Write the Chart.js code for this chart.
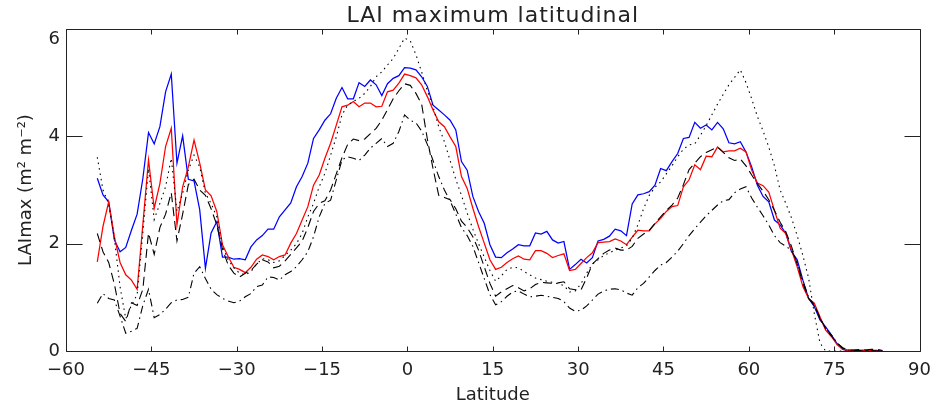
<!DOCTYPE html>
<html>
<head>
<meta charset="utf-8">
<title>LAI maximum latitudinal</title>
<script src="https://cdn.jsdelivr.net/npm/chart.js@4.4.1/dist/chart.umd.min.js"></script>
<style>
  html, body { margin: 0; padding: 0; background: #fff; }
</style>
</head>
<body>
<canvas id="laiPlot" width="940" height="408"></canvas>
<script>
"use strict";

// 1-degree latitude bands (band centres)
const lats = [
    -54.5, -53.5, -52.5, -51.5, -50.5, -49.5, -48.5, -47.5, -46.5, -45.5,
    -44.5, -43.5, -42.5, -41.5, -40.5, -39.5, -38.5, -37.5, -36.5, -35.5,
    -34.5, -33.5, -32.5, -31.5, -30.5, -29.5, -28.5, -27.5, -26.5, -25.5,
    -24.5, -23.5, -22.5, -21.5, -20.5, -19.5, -18.5, -17.5, -16.5, -15.5,
    -14.5, -13.5, -12.5, -11.5, -10.5, -9.5, -8.5, -7.5, -6.5, -5.5,
    -4.5, -3.5, -2.5, -1.5, -0.5, 0.5, 1.5, 2.5, 3.5, 4.5,
    5.5, 6.5, 7.5, 8.5, 9.5, 10.5, 11.5, 12.5, 13.5, 14.5,
    15.5, 16.5, 17.5, 18.5, 19.5, 20.5, 21.5, 22.5, 23.5, 24.5,
    25.5, 26.5, 27.5, 28.5, 29.5, 30.5, 31.5, 32.5, 33.5, 34.5,
    35.5, 36.5, 37.5, 38.5, 39.5, 40.5, 41.5, 42.5, 43.5, 44.5,
    45.5, 46.5, 47.5, 48.5, 49.5, 50.5, 51.5, 52.5, 53.5, 54.5,
    55.5, 56.5, 57.5, 58.5, 59.5, 60.5, 61.5, 62.5, 63.5, 64.5,
    65.5, 66.5, 67.5, 68.5, 69.5, 70.5, 71.5, 72.5, 73.5, 74.5,
    75.5, 76.5, 77.5, 78.5, 79.5, 80.5, 81.5, 82.5, 83.5
];

const laiBlue = [
    3.22, 2.91, 2.78, 2.07, 1.85, 1.93, 2.25, 2.55, 3.21, 4.07,
    3.86, 4.18, 4.83, 5.16, 3.50, 4.01, 3.20, 3.17, 2.63, 1.54,
    2.20, 2.41, 1.75, 1.75, 1.71, 1.72, 1.70, 1.94, 2.07, 2.15,
    2.27, 2.27, 2.50, 2.63, 2.76, 3.06, 3.25, 3.50, 3.96, 4.12,
    4.30, 4.42, 4.71, 4.91, 4.70, 4.70, 5.00, 4.93, 5.05, 4.96,
    4.76, 4.98, 5.08, 5.13, 5.28, 5.27, 5.24, 5.11, 4.93, 4.58,
    4.49, 4.40, 4.30, 4.12, 3.53, 3.37, 2.88, 2.60, 2.38, 1.98,
    1.75, 1.74, 1.83, 1.90, 1.98, 1.96, 1.96, 2.20, 2.18, 2.23,
    2.07, 2.01, 2.04, 1.52, 1.61, 1.71, 1.64, 1.74, 2.05, 2.08,
    2.14, 2.27, 2.24, 2.15, 2.74, 2.91, 2.93, 2.97, 3.09, 3.40,
    3.36, 3.53, 3.68, 3.96, 3.98, 4.26, 4.15, 4.21, 4.12, 4.26,
    4.14, 3.88, 3.86, 3.90, 3.71, 3.43, 3.09, 2.88, 2.78, 2.44,
    2.35, 2.19, 1.85, 1.70, 1.32, 0.98, 0.83, 0.58, 0.45, 0.30,
    0.14, 0.03, 0.01, 0.01, 0.01, 0.01, 0.01, 0.01, 0.00
];

const laiRed = [
    1.66, 2.32, 2.78, 2.13, 1.65, 1.42, 1.32, 1.15, 2.35, 3.56,
    2.66, 3.12, 3.81, 4.15, 2.35, 3.06, 3.43, 3.93, 3.50, 3.00,
    2.89, 2.60, 1.98, 1.76, 1.56, 1.52, 1.46, 1.56, 1.71, 1.79,
    1.76, 1.70, 1.76, 1.79, 2.01, 2.19, 2.44, 2.69, 3.09, 3.28,
    3.59, 3.87, 4.21, 4.55, 4.58, 4.65, 4.55, 4.62, 4.62, 4.55,
    4.56, 4.83, 4.86, 4.99, 5.16, 5.13, 5.09, 4.96, 4.74, 4.49,
    4.27, 4.18, 3.99, 3.81, 3.25, 3.03, 2.66, 2.32, 2.01, 1.70,
    1.52, 1.56, 1.65, 1.72, 1.77, 1.71, 1.70, 1.87, 1.87, 1.82,
    1.74, 1.78, 1.81, 1.50, 1.52, 1.63, 1.74, 1.83, 2.02, 2.03,
    2.04, 2.09, 2.05, 1.98, 2.12, 2.25, 2.24, 2.24, 2.37, 2.47,
    2.60, 2.69, 2.71, 3.06, 3.19, 3.47, 3.38, 3.63, 3.62, 3.80,
    3.71, 3.73, 3.73, 3.78, 3.71, 3.37, 3.13, 3.08, 2.96, 2.62,
    2.29, 2.19, 1.88, 1.57, 1.20, 0.98, 0.89, 0.64, 0.39, 0.27,
    0.12, 0.03, 0.01, 0.01, 0.01, 0.01, 0.01, 0.00, 0.00
];

const laiDotted = [
    3.61, 3.00, 2.75, 2.10, 1.20, 0.60, 0.85, 1.05, 2.20, 3.40,
    2.45, 2.75, 3.06, 3.59, 2.60, 2.94, 3.37, 3.65, 3.43, 2.94,
    2.75, 2.50, 1.94, 1.70, 1.55, 1.45, 1.42, 1.48, 1.62, 1.72,
    1.70, 1.65, 1.68, 1.78, 1.88, 2.00, 2.19, 2.50, 2.75, 3.06,
    3.31, 3.65, 3.99, 4.40, 4.58, 4.65, 4.71, 4.80, 4.93, 5.11,
    5.20, 5.33, 5.45, 5.64, 5.83, 5.78, 5.52, 5.20, 4.85, 4.55,
    4.18, 3.90, 3.55, 3.20, 2.90, 2.57, 2.27, 2.00, 1.75, 1.50,
    1.30, 1.40, 1.52, 1.56, 1.55, 1.48, 1.42, 1.36, 1.33, 1.30,
    1.28, 1.25, 1.22, 1.10, 1.12, 1.25, 1.45, 1.62, 1.70, 1.78,
    1.83, 1.88, 1.92, 1.96, 2.10, 2.35, 2.65, 2.90, 3.05, 3.15,
    3.30, 3.45, 3.62, 3.76, 3.84, 3.86, 4.02, 4.20, 4.40, 4.60,
    4.78, 4.96, 5.10, 5.24, 5.00, 4.70, 4.37, 4.10, 3.80, 3.45,
    3.00, 2.75, 2.48, 2.15, 1.78, 1.36, 0.70, 0.15, 0.00, 0.00,
    0.00, 0.00, 0.00, 0.00, 0.00, 0.00, 0.00, 0.00, 0.00
];

const laiDashed = [
    2.19, 1.85, 1.65, 1.25, 0.70, 0.55, 0.90, 0.85, 1.15, 2.20,
    1.80, 2.30, 2.55, 2.95, 2.05, 2.55, 3.10, 3.20, 3.00, 2.90,
    2.65, 2.35, 1.90, 1.60, 1.45, 1.38, 1.45, 1.50, 1.62, 1.70,
    1.66, 1.55, 1.58, 1.68, 1.80, 1.92, 2.05, 2.30, 2.60, 2.75,
    2.80, 3.00, 3.30, 3.60, 3.85, 3.95, 3.92, 3.95, 4.05, 4.15,
    4.30, 4.50, 4.70, 4.85, 4.98, 4.95, 4.80, 4.60, 3.95, 3.40,
    2.90, 2.86, 2.82, 2.65, 2.42, 2.30, 2.13, 1.88, 1.57, 1.26,
    1.02, 1.10, 1.16, 1.22, 1.18, 1.12, 1.16, 1.24, 1.28, 1.27,
    1.26, 1.27, 1.29, 1.16, 1.14, 1.14, 1.36, 1.62, 1.72, 1.82,
    1.88, 1.92, 1.88, 1.88, 1.95, 2.10, 2.18, 2.25, 2.38, 2.50,
    2.62, 2.72, 2.85, 3.10, 3.38, 3.50, 3.62, 3.70, 3.75, 3.80,
    3.70, 3.60, 3.55, 3.58, 3.45, 3.28, 3.12, 2.98, 2.82, 2.62,
    2.40, 2.22, 1.95, 1.62, 1.26, 0.98, 0.86, 0.62, 0.42, 0.28,
    0.15, 0.06, 0.02, 0.02, 0.03, 0.02, 0.03, 0.03, 0.01
];

const laiDashDot = [
    0.89, 1.07, 0.98, 0.95, 0.65, 0.33, 0.37, 0.42, 0.85, 1.15,
    0.62, 0.68, 0.78, 0.90, 0.95, 0.96, 1.00, 1.45, 1.57, 1.35,
    1.15, 1.05, 0.98, 0.93, 0.90, 0.93, 1.01, 1.07, 1.20, 1.23,
    1.38, 1.37, 1.32, 1.42, 1.48, 1.57, 1.70, 1.85, 2.13, 2.50,
    2.75, 2.81, 3.19, 3.56, 3.62, 3.59, 3.55, 3.65, 3.78, 3.87,
    3.96, 3.81, 3.87, 4.09, 4.40, 4.30, 4.25, 4.10, 3.85, 3.55,
    3.25, 3.00, 2.80, 2.55, 2.30, 2.15, 1.95, 1.65, 1.35, 1.05,
    0.86, 0.92, 1.02, 1.10, 1.12, 1.06, 1.01, 1.02, 1.04, 1.02,
    1.00, 0.98, 0.92, 0.80, 0.74, 0.76, 0.84, 0.95, 1.06, 1.12,
    1.15, 1.16, 1.14, 1.08, 1.04, 1.18, 1.26, 1.38, 1.50, 1.60,
    1.65, 1.75, 1.86, 2.00, 2.15, 2.28, 2.40, 2.52, 2.62, 2.72,
    2.80, 2.82, 2.95, 3.02, 3.06, 2.85, 2.68, 2.52, 2.35, 2.15,
    2.02, 1.95, 1.88, 1.65, 1.30, 1.00, 0.84, 0.60, 0.42, 0.30,
    0.15, 0.05, 0.02, 0.01, 0.01, 0.01, 0.01, 0.00, 0.00
];

const xTickValues = [-60, -45, -30, -15, 0, 15, 30, 45, 60, 75, 90];
const yTickValues = [0, 2, 4, 6];
const plotTitle = "LAI maximum latitudinal";

const FONT = "'DejaVu Sans', 'Liberation Sans', sans-serif";
const INK = "#222";

function toPoints(values) {
    return lats.map((lat, i) => ({ x: lat, y: values[i] }));
}

function lineSet(values, color, dash, width) {
    return {
        data: toPoints(values),
        borderColor: color,
        borderWidth: width,
        borderDash: dash,
        pointRadius: 0,
        tension: 0,
        fill: false,
    };
}

// boxed frame with inward ticks on all four sides, title centred over the plot box
const boxFrame = {
    id: "boxFrame",
    afterDraw(chart) {
        const { ctx, chartArea: a } = chart;
        const xs = chart.scales.x;
        const ys = chart.scales.y;
        const L = Math.round(a.left) + 0.5, R = Math.round(a.right) + 0.5;
        const T = Math.round(a.top) + 0.5, B = Math.round(a.bottom) + 0.5;
        ctx.save();
        ctx.strokeStyle = INK;
        ctx.lineWidth = 1;
        ctx.beginPath();
        ctx.rect(L, T, R - L, B - T);
        xTickValues.forEach((v) => {
            const px = Math.round(xs.getPixelForValue(v)) + 0.5;
            ctx.moveTo(px, B);
            ctx.lineTo(px, B - 5);
            ctx.moveTo(px, T);
            ctx.lineTo(px, T + 5);
        });
        yTickValues.forEach((v) => {
            const py = Math.round(ys.getPixelForValue(v)) + 0.5;
            ctx.moveTo(L, py);
            ctx.lineTo(L + 16, py);
            ctx.moveTo(R, py);
            ctx.lineTo(R - 16, py);
        });
        ctx.stroke();

        ctx.fillStyle = INK;
        ctx.font = "22px " + FONT;
        ctx.textAlign = "center";
        ctx.textBaseline = "alphabetic";
        if ("letterSpacing" in ctx) ctx.letterSpacing = "1px";
        ctx.fillText(plotTitle, (a.left + a.right) / 2, 22);
        ctx.restore();
    },
};

const canvas = document.getElementById("laiPlot");
const ctx = canvas.getContext("2d");

new Chart(ctx, {
    type: "line",
    data: {
        datasets: [
            lineSet(laiDotted, "#000", [1.5, 4], 1.1),
            lineSet(laiDashed, "#000", [9, 5], 1.1),
            lineSet(laiDashDot, "#000", [8, 4, 1.5, 4], 1.1),
            lineSet(laiRed, "#ff0000", [], 1.25),
            lineSet(laiBlue, "#0000ff", [], 1.25),
        ],
    },
    options: {
        responsive: false,
        animation: false,
        events: [],
        layout: { padding: { left: 0, right: 14, top: 29, bottom: 0 } },
        plugins: {
            legend: { display: false },
            tooltip: { enabled: false },
        },
        scales: {
            x: {
                type: "linear",
                min: -60,
                max: 90,
                afterBuildTicks: (scale) => {
                    scale.ticks = xTickValues.map((v) => ({ value: v }));
                },
                afterFit: (scale) => {
                    scale.height = 57;
                },
                grid: { display: false, drawTicks: false },
                border: { display: false },
                ticks: {
                    color: INK,
                    padding: 9,
                    maxRotation: 0,
                    font: { family: FONT, size: 18 },
                    callback: (v) => String(v).replace("-", "\u2212"),
                },
                title: {
                    display: true,
                    text: "Latitude",
                    color: INK,
                    font: { family: FONT, size: 18 },
                    padding: { top: 2, bottom: 2 },
                },
            },
            y: {
                type: "linear",
                min: 0,
                max: 6,
                afterBuildTicks: (scale) => {
                    scale.ticks = yTickValues.map((v) => ({ value: v }));
                },
                afterFit: (scale) => {
                    scale.width = 66;
                },
                grid: { display: false, drawTicks: false },
                border: { display: false },
                ticks: {
                    color: INK,
                    padding: 6,
                    font: { family: FONT, size: 18 },
                    // top label sits just inside the frame
                    callback: (v) => (v === 6 ? ["", "6"] : String(v)),
                },
                title: {
                    display: true,
                    text: "LAImax (m\u00b2 m\u207b\u00b2)",
                    color: INK,
                    font: { family: FONT, size: 18 },
                    padding: { top: 16, bottom: 0 },
                },
            },
        },
    },
    plugins: [boxFrame],
});
</script>
</body>
</html>
